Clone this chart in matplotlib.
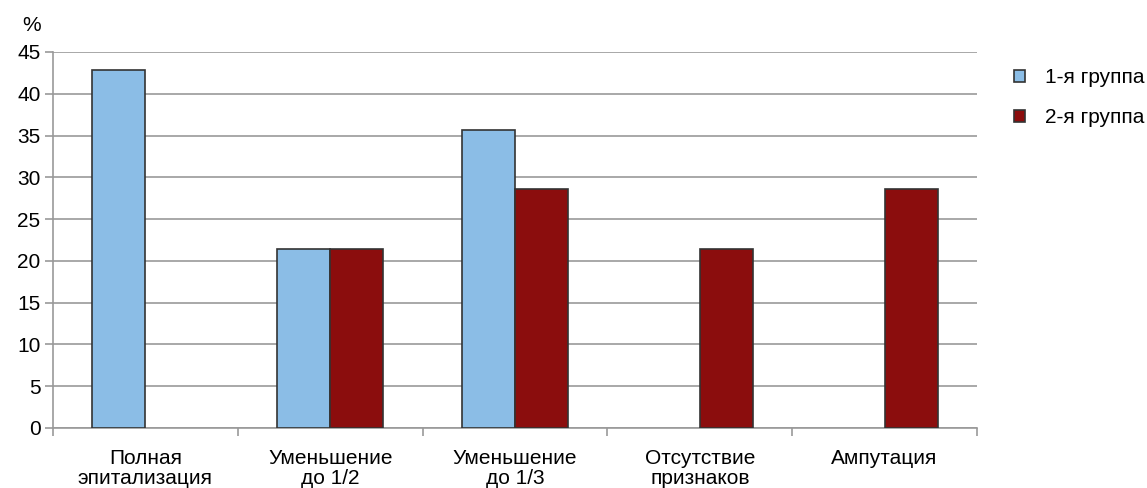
import numpy as np
import matplotlib
matplotlib.use('Agg')
import matplotlib.pyplot as plt

plt.rcParams['font.family'] = ['Liberation Sans', 'DejaVu Sans']

categories = ['Полная\nэпитализация', 'Уменьшение\nдо 1/2', 'Уменьшение\nдо 1/3',
              'Отсутствие\nпризнаков', 'Ампутация']
group1 = [42.86, 21.43, 35.71, 0, 0]
group2 = [0, 21.43, 28.57, 21.43, 28.57]
series_names = ['1-я группа', '2-я группа']
yticks = [0, 5, 10, 15, 20, 25, 30, 35, 40, 45]

fig = plt.figure(figsize=(11.47, 4.88), dpi=100)
ax = fig.add_axes([0.0462, 0.123, 0.8056, 0.7705])

x = np.arange(len(categories))
w = 0.287
# zero values are left out so no flat outline is drawn
v1 = np.array(group1, dtype=float)
v2 = np.array(group2, dtype=float)
m1 = v1 > 0
m2 = v2 > 0
ax.bar(x[m1] - w / 2, v1[m1], w, color='#8bbde6', edgecolor='#333333', linewidth=1.2,
       label=series_names[0], zorder=3)
ax.bar(x[m2] + w / 2, v2[m2], w, color='#8b0d0d', edgecolor='#333333', linewidth=1.2,
       label=series_names[1], zorder=3)

ax.set_xlim(-0.5, len(categories) - 0.5)
ax.set_ylim(0, 45)
ax.set_yticks(yticks)
ax.yaxis.grid(True, color='#999999', linewidth=1.2, zorder=0)

# category labels centered, tick marks at the boundaries
ax.set_xticks(np.arange(len(categories) + 1) - 0.5)
ax.set_xticklabels([])
ax.set_xticks(x, minor=True)
ax.set_xticklabels(categories, minor=True, fontsize=15, linespacing=1.05)
ax.tick_params(axis='x', which='minor', length=0, pad=15)
ax.tick_params(axis='x', which='major', length=6, color='#999999', width=1.2)
ax.tick_params(axis='y', length=6, color='#999999', width=1.2, labelsize=15, pad=3)

for s in ['top', 'right']:
    ax.spines[s].set_visible(False)
for s in ['left', 'bottom']:
    ax.spines[s].set_color('#999999')
    ax.spines[s].set_linewidth(1.2)

fig.text(0.019, 0.948, '%', fontsize=15, ha='left', va='center')

ax.legend(loc='upper left', bbox_to_anchor=(1.024, 0.995), frameon=False, fontsize=15,
          handlelength=0.55, handleheight=0.55, handletextpad=0.95, labelspacing=1.0,
          borderaxespad=0.3)

fig.savefig('out.png', dpi=100)
